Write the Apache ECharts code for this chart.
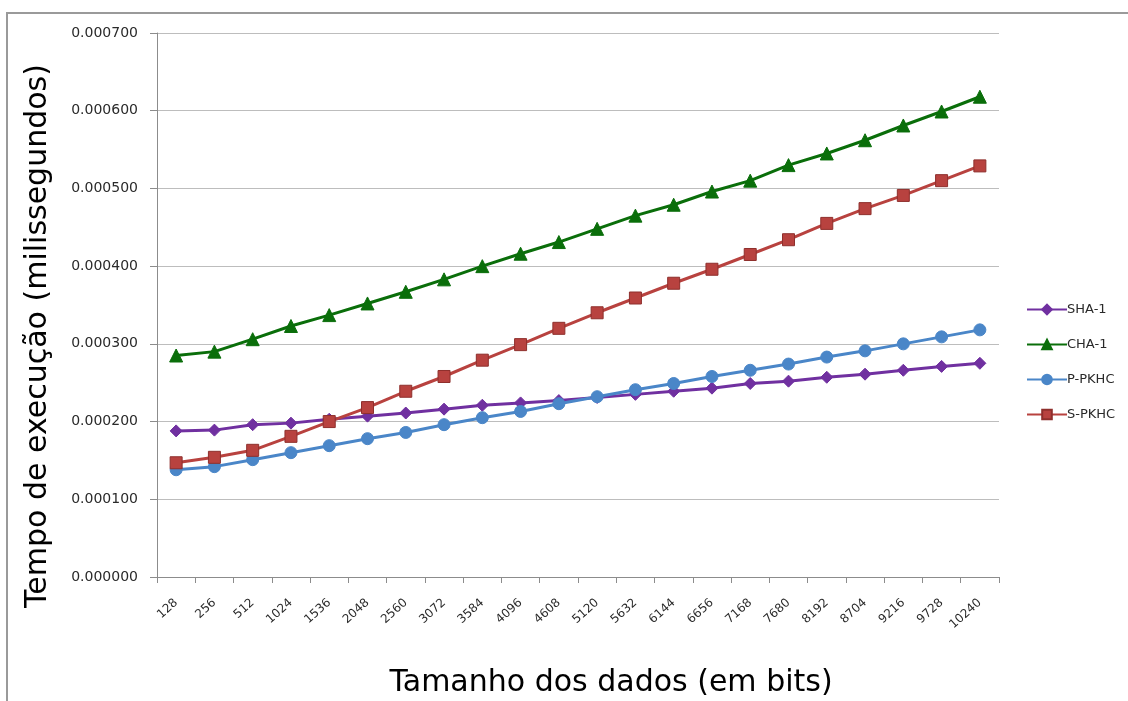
<!DOCTYPE html>
<html>
<head>
<meta charset="utf-8">
<script src="https://cdn.jsdelivr.net/npm/echarts@6/dist/echarts.min.js"></script>
<style>
  html, body { margin: 0; padding: 0; background: #ffffff; overflow: hidden; }
  #chart { width: 1128px; height: 701px; }
</style>
</head>
<body>
<div id="chart"></div>
<script>
// Data sizes (bits) on the category axis
const categories = ['128', '256', '512', '1024', '1536', '2048', '2560', '3072', '3584', '4096', '4608',
  '5120', '5632', '6144', '6656', '7168', '7680', '8192', '8704', '9216', '9728', '10240'];

// Execution time (ms) per algorithm
const sha1 = [0.000188, 0.000189, 0.000196, 0.000198, 0.000203, 0.000207, 0.000211, 0.000216, 0.000221, 0.000224, 0.000227,
  0.000231, 0.000235, 0.000239, 0.000243, 0.000249, 0.000252, 0.000257, 0.000261, 0.000266, 0.000271, 0.000275];
const cha1 = [0.000285, 0.000290, 0.000306, 0.000323, 0.000337, 0.000352, 0.000367, 0.000383, 0.000400, 0.000416, 0.000431,
  0.000448, 0.000465, 0.000479, 0.000496, 0.000510, 0.000530, 0.000545, 0.000562, 0.000581, 0.000599, 0.000618];
const pPkhc = [0.000138, 0.000142, 0.000151, 0.000160, 0.000169, 0.000178, 0.000186, 0.000196, 0.000205, 0.000213, 0.000223,
  0.000232, 0.000241, 0.000249, 0.000258, 0.000266, 0.000274, 0.000283, 0.000291, 0.000300, 0.000309, 0.000318];
const sPkhc = [0.000147, 0.000154, 0.000163, 0.000181, 0.000200, 0.000218, 0.000239, 0.000258, 0.000279, 0.000299, 0.000320,
  0.000340, 0.000359, 0.000378, 0.000396, 0.000415, 0.000434, 0.000455, 0.000474, 0.000491, 0.000510, 0.000529];

// Y axis range (ms)
const yMin = 0, yMax = 0.0007, yStep = 0.0001;

const xTitle = 'Tamanho dos dados (em bits)';
const yTitle = 'Tempo de execução (milissegundos)';

const chart = echarts.init(document.getElementById('chart'), null, { renderer: 'canvas' });

function lineSeries(name, data, color, symbol, size, borderColor) {
  return {
    name: name,
    type: 'line',
    data: data,
    symbol: symbol,
    symbolSize: size,
    showAllSymbol: true,
    lineStyle: { color: color, width: 3 },
    itemStyle: { color: color, borderColor: borderColor || color, borderWidth: 1 },
    emphasis: { disabled: true },
    animation: false
  };
}

const titleFont = { fontFamily: 'DejaVu Sans', fontSize: 30, fill: '#000000' };

chart.setOption({
  backgroundColor: '#ffffff',
  animation: false,
  graphic: [
    {
      type: 'rect',
      shape: { x: 7, y: 13, width: 1140, height: 720 },
      style: { fill: 'none', stroke: '#9a9a9a', lineWidth: 2 },
      silent: true
    },
    {
      type: 'text',
      x: 611, y: 683,
      style: Object.assign({ text: xTitle, align: 'center', verticalAlign: 'middle' }, titleFont),
      silent: true
    },
    {
      type: 'text',
      x: 38, y: 336,
      rotation: Math.PI / 2,
      style: Object.assign({ text: yTitle, align: 'center', verticalAlign: 'middle' }, titleFont),
      silent: true
    }
  ],
  grid: { left: 157, width: 842, top: 33, height: 544 },
  legend: {
    orient: 'vertical',
    left: 1021,
    top: 298,
    itemWidth: 40,
    itemHeight: 12,
    itemGap: 22,
    textStyle: { fontFamily: 'DejaVu Sans', fontSize: 13, color: '#2a2a2a', padding: [0, 0, 0, -5] },
    data: ['SHA-1', 'CHA-1', 'P-PKHC', 'S-PKHC']
  },
  xAxis: {
    type: 'category',
    data: categories,
    boundaryGap: true,
    axisLine: { lineStyle: { color: '#8c8c8c', width: 1 } },
    axisTick: { show: true, alignWithLabel: false, length: 6, lineStyle: { color: '#8c8c8c' } },
    axisLabel: { rotate: 42, margin: 24, interval: 0, fontFamily: 'DejaVu Sans', fontSize: 12, color: '#2a2a2a' },
    splitLine: { show: false }
  },
  yAxis: {
    type: 'value',
    min: yMin,
    max: yMax,
    interval: yStep,
    axisLine: { show: true, lineStyle: { color: '#8c8c8c', width: 1 } },
    axisTick: { show: true, length: 7, lineStyle: { color: '#8c8c8c' } },
    axisLabel: {
      margin: 19,
      fontFamily: 'DejaVu Sans', fontSize: 14, color: '#2a2a2a',
      formatter: v => v.toFixed(6)
    },
    splitLine: { show: true, lineStyle: { color: '#bdbdbd', width: 1 } }
  },
  series: [
    lineSeries('SHA-1', sha1, '#7030a0', 'diamond', 12),
    lineSeries('CHA-1', cha1, '#0a6e0a', 'triangle', 13),
    lineSeries('P-PKHC', pPkhc, '#4a86c8', 'circle', 12),
    lineSeries('S-PKHC', sPkhc, '#b8423f', 'rect', 12, '#8e2f2c')
  ]
});
</script>
</body>
</html>
